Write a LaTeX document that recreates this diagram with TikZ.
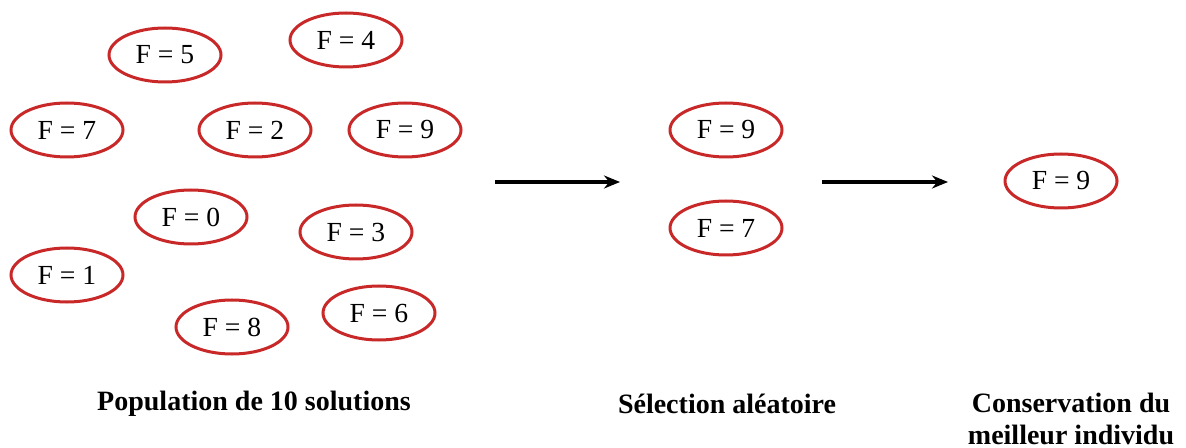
\documentclass[tikz,border=0pt]{standalone}
\usepackage{fontspec}
\setmainfont{Liberation Serif}
\usepackage{tikz}
\usetikzlibrary{shapes.geometric}
\usetikzlibrary{arrows.meta}
\definecolor{solred}{RGB}{200,40,40}
\tikzstyle{sol}=[ellipse, draw=solred, line width=1.5pt, minimum width=56pt, minimum height=27pt, inner sep=0pt, font=\fontsize{13.8}{15}\selectfont]
\tikzstyle{legend}=[font=\bfseries\fontsize{14}{16}\selectfont, align=center]
\tikzstyle{flow}=[line width=1.6pt, -{Stealth[length=8pt,width=6.5pt]}]

\begin{document}
\begin{tikzpicture}[x=0.5pt,y=-0.5pt]
    \useasboundingbox (0,0) rectangle (1186,448);

    %population
    \foreach \x/\y/\f in {165/55/5, 346/40/4, 67/130/7, 255/130/2, 405/130/9, 191/217/0, 356/232/3, 67/275/1, 379/313/6, 232/327/8}{\node [sol] (p\f) at (\x,\y) {F = \f};}

    %selection
    \node [sol] (s9) at (726,130) {F = 9};
    \node [sol] (s7) at (726,228) {F = 7};

    %best
    \node [sol] (b9) at (1061,181) {F = 9};

    %arrows
    \coordinate (a1) at (495,182); \coordinate (a2) at (620,182);
    \coordinate (c1) at (822,182); \coordinate (c2) at (948,182);
    \draw [flow] (a1) -- (a2);
    \draw [flow] (c1) -- (c2);

    \node [legend] (lpop) at (254,404) {Population de 10 solutions};
    \node [legend] (lsel) at (727,404) {Sélection aléatoire};
    \node [legend] (lbest) at (1071,419) {Conservation du\\meilleur individu};

\end{tikzpicture}
\end{document}
